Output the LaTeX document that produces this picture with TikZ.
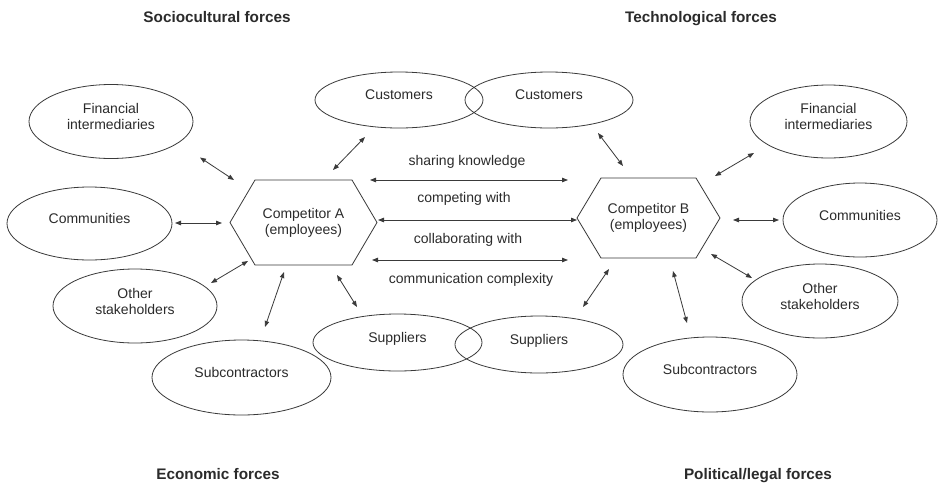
\documentclass[tikz,border=0pt]{standalone}
\usepackage{fontspec}
\setmainfont{Liberation Sans}
\usetikzlibrary{shapes.geometric,arrows.meta}

\definecolor{inkline}{HTML}{3A3A3A}
\definecolor{inktext}{HTML}{2B2B2B}

% outline of a flat-topped hexagon inscribed in a rectangular node
\newcommand\hexoutline[2]{%
  \draw[hexline] (#1.west) -- ([xshift=#2]#1.north west) -- ([xshift=-#2]#1.north east)
    -- (#1.east) -- ([xshift=-#2]#1.south east) -- ([xshift=#2]#1.south west) -- cycle;}

\tikzset{
  body/.style={font=\fontsize{14pt}{16pt}\selectfont, text=inktext},
  forcetitle/.style={font=\fontsize{15.3pt}{17pt}\selectfont\bfseries, text=inktext, anchor=base, inner sep=0pt},
  party/.style={body, draw=inkline, line width=0.8pt, ellipse, inner sep=0pt,
                align=center, text depth=10pt},
  hexbox/.style={body, rectangle, draw=none, inner sep=0pt, outer sep=0pt, align=center},
  hexline/.style={draw=inkline, line width=0.8pt, line join=miter},
  link/.style={draw=inkline, line width=0.8pt,
               {Triangle[length=6pt,width=4.5pt]}-{Triangle[length=6pt,width=4.5pt]}},
  relation/.style={body, anchor=base, inner sep=0pt}
}

\begin{document}
\begin{tikzpicture}[x=1pt,y=-1pt]
  \useasboundingbox[fill=white] (0,0) rectangle (938,483);

  % environmental forces in the corners
  \node[forcetitle] (soc)  at (217,22.5) {Sociocultural forces};
  \node[forcetitle] (tech) at (701,22)   {Technological forces};
  \node[forcetitle] (econ) at (218,479.5) {Economic forces};
  \node[forcetitle] (pol)  at (758,479)  {Political/legal forces};

  % the two competitors
  \node[hexbox, minimum width=147pt, minimum height=85pt] (A) at (303.5,222.5) {Competitor A\\(employees)};
  \hexoutline{A}{25pt}
  \node[hexbox, minimum width=143pt, minimum height=80pt] (B) at (648.5,218) {Competitor B\\(employees)};
  \hexoutline{B}{24pt}

  % stakeholders of competitor A
  \node[party, minimum width=164pt, minimum height=74pt] (finA) at (111,121.5) {Financial\\intermediaries};
  \node[party, minimum width=165pt, minimum height=73pt] (comA) at (89.5,223.5) {Communities};
  \node[party, minimum width=164pt, minimum height=74pt] (othA) at (135,306) {Other\\stakeholders};
  \node[party, minimum width=179pt, minimum height=75pt] (subA) at (241.5,377.5) {Subcontractors};

  % shared customers and suppliers
  \node[party, minimum width=168pt, minimum height=56pt] (cusA) at (399,100) {Customers};
  \node[party, minimum width=168pt, minimum height=56pt] (cusB) at (549,100) {Customers};
  \node[party, minimum width=169pt, minimum height=57pt] (supA) at (397.5,342.5) {Suppliers};
  \node[party, minimum width=168pt, minimum height=57pt] (supB) at (539,344.5) {Suppliers};

  % stakeholders of competitor B
  \node[party, minimum width=157pt, minimum height=73pt] (finB) at (828.5,121.5) {Financial\\intermediaries};
  \node[party, minimum width=154pt, minimum height=74pt] (comB) at (860,220) {Communities};
  \node[party, minimum width=156pt, minimum height=74pt] (othB) at (820,301) {Other\\stakeholders};
  \node[party, minimum width=174pt, minimum height=75pt] (subB) at (710,374.5) {Subcontractors};

  % links around competitor A
  \draw[link] ([shift={(89,36)}]finA.center)    -- ([shift={(-69.5,-42.5)}]A.center);
  \draw[link] ([shift={(85.5,-0.5)}]comA.center) -- ([shift={(-81.5,0.5)}]A.center);
  \draw[link] ([shift={(76,-23)}]othA.center)   -- ([shift={(-55.5,38.5)}]A.center);
  \draw[link] ([shift={(23.5,-50.5)}]subA.center) -- ([shift={(-19.5,49.5)}]A.center);
  \draw[link] ([shift={(-40.5,-35.5)}]supA.center) -- ([shift={(33.5,52.5)}]A.center);
  \draw[link] ([shift={(-34,37)}]cusA.center)   -- ([shift={(29.5,-52.5)}]A.center);

  % links around competitor B
  \draw[link] ([shift={(49,33)}]cusB.center)    -- ([shift={(-25.5,-52)}]B.center);
  \draw[link] ([shift={(44,-37.5)}]supB.center) -- ([shift={(-39.5,51)}]B.center);
  \draw[link] ([shift={(-74.5,31.5)}]finB.center) -- ([shift={(66.5,-42)}]B.center);
  \draw[link] ([shift={(-81,0)}]comB.center)    -- ([shift={(84.5,2)}]B.center);
  \draw[link] ([shift={(-68,-23)}]othB.center)  -- ([shift={(62.5,36)}]B.center);
  \draw[link] ([shift={(-23,-51.5)}]subB.center) -- ([shift={(24.5,53)}]B.center);

  % relations between the competitors
  \draw[link] ([shift={(66.5,-42.5)}]A.center) -- ([shift={(-80.5,-38)}]B.center);
  \draw[link] ([shift={(74.5,-2.5)}]A.center)  -- ([shift={(-71.5,2)}]B.center);
  \draw[link] ([shift={(68.5,37.5)}]A.center)  -- ([shift={(-80.5,42)}]B.center);

  \node[relation] (share)  at (467,165) {sharing knowledge};
  \node[relation] (compete) at (464,202) {competing with};
  \node[relation] (collab) at (468,243) {collaborating with};
  \node[relation] (commun) at (471,283) {communication complexity};
\end{tikzpicture}
\end{document}
